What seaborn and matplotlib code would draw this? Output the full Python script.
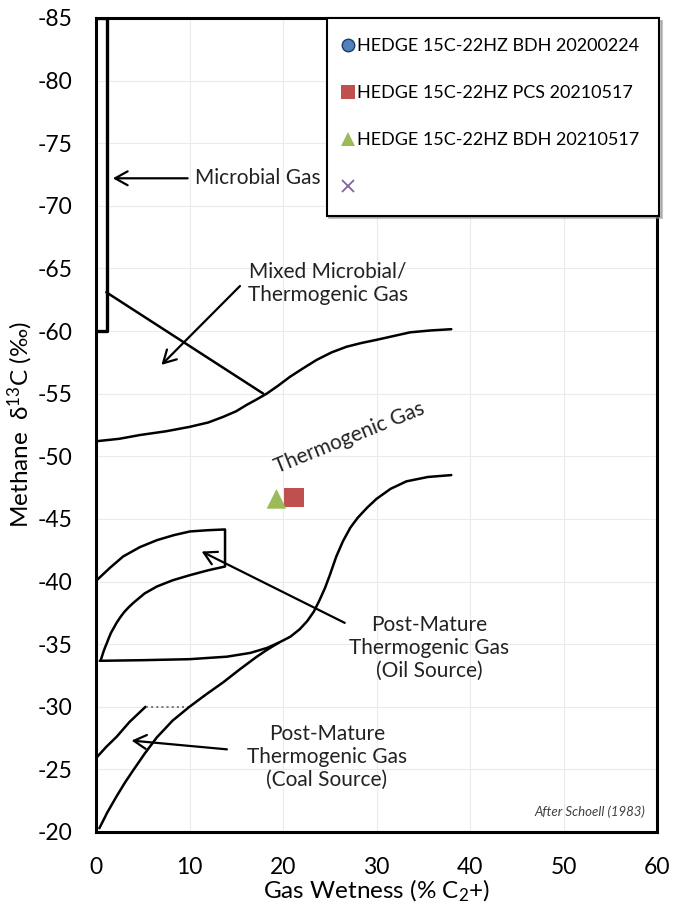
import numpy as np
import pandas as pd
import matplotlib
matplotlib.use("Agg")
import matplotlib.pyplot as plt
import seaborn as sns
from matplotlib.lines import Line2D
from matplotlib.ticker import MultipleLocator

# ---------------- data ----------------
microbial_x = [0, 1.2, 1.2, 0]
microbial_y = [-85, -85, -60, -60]

mixed_x = [1.1, 17.9]
mixed_y = [-63.1, -55.0]

thermo_upper_x = [0, 2.5, 4.7, 7.5, 10.0, 12.0, 13.6, 15.0, 16.1, 17.2, 18.25, 19.5, 20.75,
                  22.2, 23.6, 25.2, 26.8, 28.4, 30.0, 31.8, 33.6, 35.8, 38.0]
thermo_upper_y = [-51.2, -51.4, -51.7, -52.0, -52.35, -52.7, -53.15, -53.6, -54.1, -54.55, -55.0,
                  -55.65, -56.35, -57.05, -57.7, -58.3, -58.75, -59.05, -59.3, -59.6, -59.9, -60.05, -60.15]

thermo_lower_x = [0.4, 5.0, 10.0, 14.0, 16.5, 18.3, 19.5, 20.8, 21.8, 22.6, 23.3, 23.9, 24.5,
                  25.0, 25.7, 26.4, 27.2, 28.0, 29.0, 30.0, 31.5, 33.2, 35.5, 38.0]
thermo_lower_y = [-33.67, -33.72, -33.8, -34.0, -34.3, -34.7, -35.1, -35.6, -36.2, -36.85, -37.6,
                  -38.5, -39.5, -40.5, -42.0, -43.2, -44.3, -45.1, -45.9, -46.6, -47.4, -48.0, -48.35, -48.5]

oil_x = [0.07, 1.5, 2.9, 4.7, 6.5, 8.3, 10.05, 12.0, 13.8, 13.8, 12.0, 10.0, 8.2, 6.5, 5.2,
         4.0, 3.5, 3.0, 2.6, 2.2, 1.9, 1.6, 1.35, 1.14, 0.95, 0.8, 0.5]
oil_y = [-40.1, -41.1, -42.0, -42.75, -43.3, -43.7, -44.0, -44.1, -44.16, -41.2, -40.9, -40.5,
         -40.1, -39.6, -39.05, -38.3, -37.95, -37.55, -37.15, -36.7, -36.3, -35.9, -35.45,
         -35.05, -34.7, -34.4, -33.7]

coal_upper_x = [0.0, 1.1, 2.2, 3.6, 5.3]
coal_upper_y = [-25.9, -26.8, -27.6, -28.8, -30.0]
coal_top_x = [5.3, 10.0]
coal_top_y = [-30.0, -30.0]

coal_lower_x = [0.36, 1.2, 2.2, 3.1, 4.0, 5.2, 6.5, 8.2, 10.0, 11.8, 13.6, 15.4, 17.2, 18.3, 19.5]
coal_lower_y = [-20.3, -21.55, -22.85, -23.95, -24.95, -26.25, -27.55, -28.9, -30.0, -31.0, -31.95,
                -33.0, -34.0, -34.55, -35.1]

series_labels = ["HEDGE 15C-22HZ BDH 20200224", "HEDGE 15C-22HZ PCS 20210517",
                 "HEDGE 15C-22HZ BDH 20210517", ""]
series_colors = ["#4F81BD", "#C0504D", "#9BBB59", "#8064A2"]
series_markers = ["o", "s", "^", "x"]
pcs_x = [21.2]
pcs_y = [-46.7]
bdh21_x = [19.3]
bdh21_y = [-46.6]

x_ticks = [0, 10, 20, 30, 40, 50, 60]
y_ticks = [-20, -25, -30, -35, -40, -45, -50, -55, -60, -65, -70, -75, -80, -85]

# ---------------- style ----------------
sns.set_theme(style="white")
plt.rcParams["font.family"] = ["Lato", "DejaVu Sans"]
plt.rcParams["mathtext.fontset"] = "custom"
plt.rcParams["mathtext.rm"] = "Lato"
plt.rcParams["mathtext.it"] = "Lato:italic"
plt.rcParams["axes.unicode_minus"] = False
plt.rcParams["text.color"] = "black"
plt.rcParams["axes.labelcolor"] = "black"
plt.rcParams["xtick.color"] = "black"
plt.rcParams["ytick.color"] = "black"

fig = plt.figure(figsize=(6.74, 9.08), dpi=100)
ax = fig.add_axes([96 / 674, 1 - 832 / 908, (657 - 96) / 674, (832 - 18) / 908])

LW = 1.8
def curve(xs, ys, **kw):
    df = pd.DataFrame({"x": xs, "y": ys})
    sns.lineplot(data=df, x="x", y="y", sort=False, estimator=None, ax=ax,
                 color=kw.pop("color", "black"), linewidth=kw.pop("lw", LW), **kw)

curve(microbial_x, microbial_y, lw=2.4)
curve(mixed_x, mixed_y)
curve(thermo_upper_x, thermo_upper_y)
curve(thermo_lower_x, thermo_lower_y)
curve(oil_x, oil_y)
curve(coal_upper_x, coal_upper_y)
curve(coal_top_x, coal_top_y, color="0.45", lw=1.4, linestyle=":")
curve(coal_lower_x, coal_lower_y)

pts = pd.DataFrame({"x": pcs_x + bdh21_x, "y": pcs_y + bdh21_y,
                    "s": [series_labels[1]] * len(pcs_x) + [series_labels[2]] * len(bdh21_x)})
sns.scatterplot(data=pts, x="x", y="y", hue="s", style="s",
                hue_order=[series_labels[1], series_labels[2]],
                palette=[series_colors[1], series_colors[2]],
                markers=[series_markers[1], series_markers[2]],
                s=200, linewidth=0, ax=ax, legend=False, zorder=5)

# arrows and annotation text
arrow = dict(arrowstyle="->,head_length=0.45,head_width=0.25", color="black", lw=1.6,
             shrinkA=0, shrinkB=0, mutation_scale=20)
ann_fs = 15
ls = 1.2
tc = "#222222"
ax.annotate("", xy=(1.8, -72.2), xytext=(9.8, -72.2), arrowprops=arrow)
ax.text(10.6, -72.2, "Microbial Gas", fontsize=ann_fs, ha="left", va="center", color=tc)

ax.annotate("", xy=(7.0, -57.3), xytext=(15.4, -63.6), arrowprops=arrow)
ax.text(24.8, -63.8, "Mixed Microbial/\nThermogenic Gas", fontsize=ann_fs, ha="center",
        va="center", linespacing=ls, color=tc)

ax.text(27.1, -51.5, "Thermogenic Gas", fontsize=ann_fs, ha="center", va="center",
        rotation=22, rotation_mode="anchor", color=tc)

ax.annotate("", xy=(11.3, -42.4), xytext=(26.6, -36.7), arrowprops=arrow)
ax.text(35.6, -34.7, "Post-Mature\nThermogenic Gas\n(Oil Source)", fontsize=ann_fs,
        ha="center", va="center", linespacing=ls, color=tc)

ax.annotate("", xy=(3.8, -27.3), xytext=(14.0, -26.6), arrowprops=arrow)
ax.text(24.7, -26.0, "Post-Mature\nThermogenic Gas\n(Coal Source)", fontsize=ann_fs,
        ha="center", va="center", linespacing=ls, color=tc)

ax.text(58.7, -21.6, "After Schoell (1983)", fontsize=9.5, style="italic", ha="right",
        va="center", color="#404040")

# axes
ax.set_xlim(0, 60)
ax.set_ylim(-20, -85)
ax.set_xticks(x_ticks)
ax.set_yticks(y_ticks)
ax.xaxis.set_minor_locator(MultipleLocator(2.5))
ax.yaxis.set_minor_locator(MultipleLocator(2.5))
ax.tick_params(which="both", direction="in", color="black")
ax.tick_params(axis="x", which="major", length=7, width=1.8, labelsize=16.5, pad=18)
ax.tick_params(axis="x", which="minor", length=4.5, width=1.5)
ax.tick_params(axis="y", which="major", length=6, width=1.8, labelsize=16.5, pad=17)
ax.tick_params(axis="y", which="minor", length=6, width=1.5)
ax.grid(True, which="major", color="#ebebeb", linewidth=0.8)
ax.set_axisbelow(True)
for sp in ax.spines.values():
    sp.set_visible(True)
    sp.set_color("black")
    sp.set_linewidth(2.2)

ax.set_xlabel("Gas Wetness (% C$_2$+)", fontsize=17.5, labelpad=0)
ax.set_ylabel("Methane  δ$^{13}$C (‰)", fontsize=17.5, labelpad=2)

handles = [Line2D([], [], linestyle="none", marker=series_markers[0], markersize=9,
                  markerfacecolor=series_colors[0], markeredgecolor="#1F3B63", markeredgewidth=1),
           Line2D([], [], linestyle="none", marker=series_markers[1], markersize=10,
                  markerfacecolor=series_colors[1], markeredgewidth=0),
           Line2D([], [], linestyle="none", marker=series_markers[2], markersize=10,
                  markerfacecolor=series_colors[2], markeredgewidth=0),
           Line2D([], [], linestyle="none", marker=series_markers[3], markersize=8,
                  color=series_colors[3], markeredgewidth=1.3)]
leg = ax.legend(handles, series_labels, loc="upper right", bbox_to_anchor=(1.004, 1.0),
                borderaxespad=0, frameon=True, fancybox=False, shadow={"color": "0.55"},
                edgecolor="black", fontsize=13, labelspacing=1.72, handlelength=0.1,
                handletextpad=0.45, borderpad=1.12)
leg.get_frame().set_linewidth(1.5)
leg.get_frame().set_alpha(1)

fig.savefig("out.png", dpi=100)
